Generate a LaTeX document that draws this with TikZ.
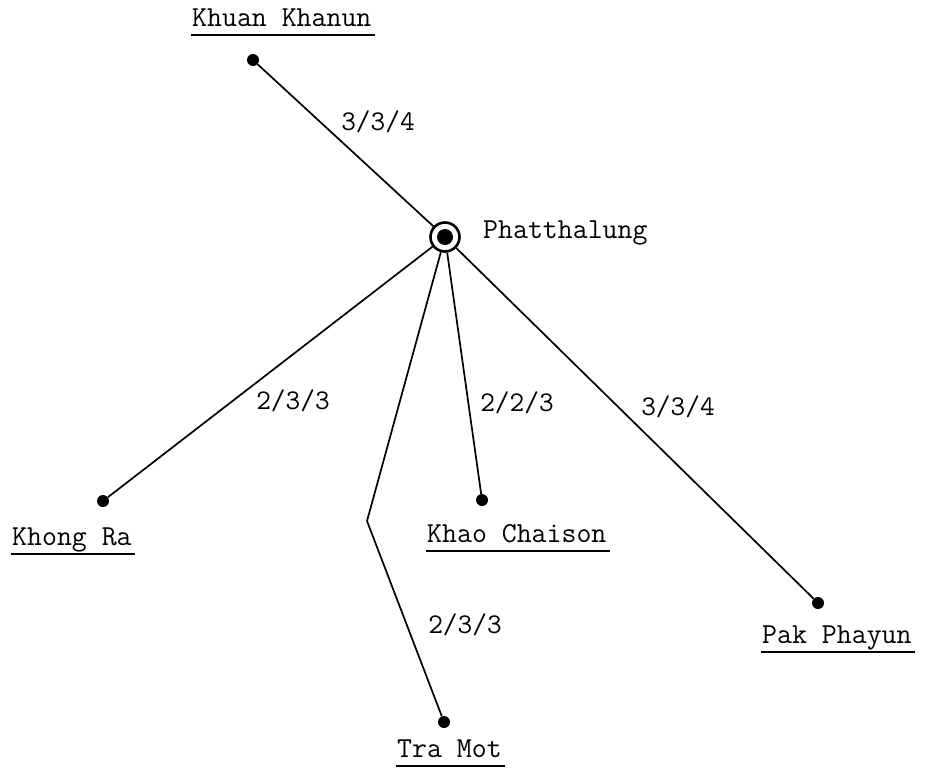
\documentclass[tikz,border=0pt]{standalone}
\usepackage{fontspec}
\begin{document}
\begin{tikzpicture}[x=1pt,y=-1pt,
  dot/.style={circle,fill=black,draw=none,minimum size=12pt,inner sep=0pt},
  hub/.style={circle,draw=black,line width=2.6pt,minimum size=29pt,inner sep=0pt},
  hubcore/.style={circle,fill=black,minimum size=16pt,inner sep=0pt},
  place/.style={inner sep=0pt,font=\ttfamily\fontsize{29}{30}\selectfont\addfontfeatures{FakeBold=0.6}},
  num/.style={inner sep=0pt,font=\ttfamily\fontsize{28.5}{30}\selectfont\addfontfeatures{FakeBold=0.6}},
  road/.style={line width=1.7pt},
  uline/.style={line width=1.1pt}]
\useasboundingbox (0,0) rectangle (929,774);
\fill[white] (0,0) rectangle (929,774);
% hub
\node[hub] (c) at (445,237) {};
\node[hubcore] (cc) at (445,237) {};
\node[place,anchor=base west] (ph) at (483,238) {Phatthalung};
% towns
\node[dot] (kk) at (253,60) {};
\node[dot] (kr) at (103,501) {};
\node[dot] (kc) at (482,500) {};
\node[dot] (pp) at (818,603) {};
\node[dot] (tm) at (444,722) {};
\coordinate (bend) at (367,521);
% town labels
\node[place,anchor=base west] (kkl) at (192,26) {Khuan Khanun};
\node[place,anchor=base west] (krl) at (12,545) {Khong Ra};
\node[place,anchor=base west] (kcl) at (427,542) {Khao Chaison};
\node[place,anchor=base west] (ppl) at (762,643) {Pak Phayun};
\node[place,anchor=base west] (tml) at (397,757) {Tra Mot};
\foreach \n in {kkl,krl,kcl,ppl,tml}
  \draw[uline] ([yshift=-9pt,xshift=-1pt]\n.base west) -- ([yshift=-9pt,xshift=3pt]\n.base east);
% roads
\draw[road] (c) -- (kk);
\draw[road] (c) -- (kr);
\draw[road] (c) -- (kc);
\draw[road] (c) -- (pp);
\draw[road] (c) -- (bend) -- (tm);
% road labels
\node[num] (l1) at (378,122) {3/3/4};
\node[num] (l2) at (293,401) {2/3/3};
\node[num] (l3) at (517,403) {2/2/3};
\node[num] (l4) at (678,407) {3/3/4};
\node[num] (l5) at (465,625) {2/3/3};
\end{tikzpicture}
\end{document}
